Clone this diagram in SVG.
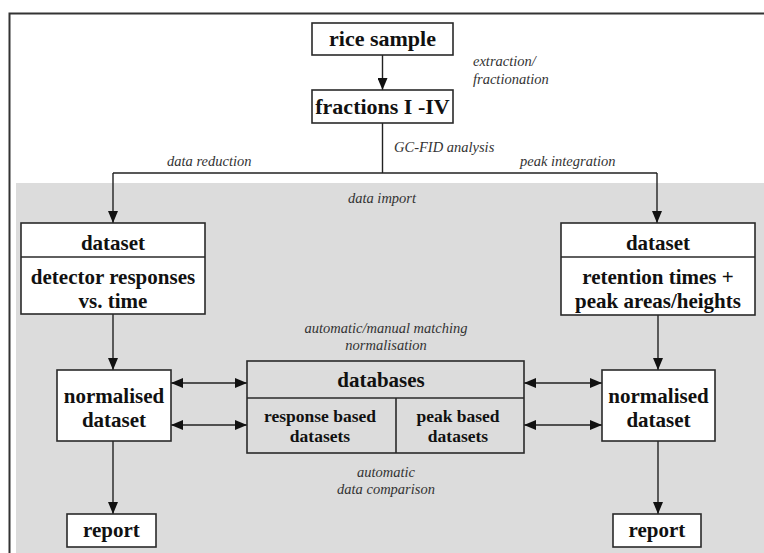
<svg xmlns="http://www.w3.org/2000/svg" width="764" height="553" viewBox="0 0 764 553" font-family="Liberation Serif, DejaVu Serif, serif">
<defs>
<style>
.box{fill:#fff;stroke:#2a2a2a;stroke-width:1.6}
.gbox{fill:#dcdcdc;stroke:#2a2a2a;stroke-width:1.6}
.b{font-weight:bold;fill:#111;text-anchor:middle}
.b22{font-size:22px}
.b21{font-size:21px}
.b17{font-size:17.5px}
.i{font-style:italic;font-size:14.5px;fill:#333}
.c{fill:none;stroke:#222;stroke-width:1.4}
</style>
<marker id="ah" viewBox="0 0 12 10" refX="12" refY="5" markerWidth="12" markerHeight="10" markerUnits="userSpaceOnUse" orient="auto-start-reverse">
<path d="M0,0 L12,5 L0,10 z" fill="#111"/>
</marker>
</defs>
<rect x="0" y="0" width="764" height="553" fill="#fff"/>
<rect x="16" y="183" width="748" height="370" fill="#dcdcdc"/>
<path d="M9.5,553 V13.5 H764" fill="none" stroke="#333" stroke-width="2"/>

<g id="connectors">
<path class="c" d="M382.5,55 V90" marker-end="url(#ah)"/>
<path class="c" d="M382.5,123 V173 M113,173 H657"/>
<path class="c" d="M113,173 V223" marker-end="url(#ah)"/>
<path class="c" d="M657,173 V223" marker-end="url(#ah)"/>
<path class="c" d="M113,314 V370" marker-end="url(#ah)"/>
<path class="c" d="M658,315 V370" marker-end="url(#ah)"/>
<path class="c" d="M171,383 H247" marker-start="url(#ah)" marker-end="url(#ah)"/>
<path class="c" d="M171,425 H247" marker-start="url(#ah)" marker-end="url(#ah)"/>
<path class="c" d="M524,383 H602" marker-start="url(#ah)" marker-end="url(#ah)"/>
<path class="c" d="M524,425 H602" marker-start="url(#ah)" marker-end="url(#ah)"/>
<path class="c" d="M113,441 V514" marker-end="url(#ah)"/>
<path class="c" d="M658,441 V514" marker-end="url(#ah)"/>
</g>

<g id="labels" font-family="Liberation Serif, DejaVu Serif, serif">
<text class="i" x="473" y="66">extraction/</text>
<text class="i" x="473" y="84">fractionation</text>
<text class="i" x="394" y="152">GC-FID analysis</text>
<text class="i" x="167" y="166">data reduction</text>
<text class="i" x="520" y="166">peak integration</text>
<text class="i" x="382" y="203" text-anchor="middle">data import</text>
<text class="i" x="386" y="333" text-anchor="middle">automatic/manual matching</text>
<text class="i" x="386" y="350" text-anchor="middle">normalisation</text>
<text class="i" x="386" y="477" text-anchor="middle">automatic</text>
<text class="i" x="386" y="494" text-anchor="middle">data comparison</text>
</g>

<g id="rice-sample" font-family="Liberation Serif, DejaVu Serif, serif">
<rect class="box" x="312" y="23" width="141" height="32"/>
<text class="b b22" x="382.5" y="46">rice sample</text>
</g>
<g id="fractions" font-family="Liberation Serif, DejaVu Serif, serif">
<rect class="box" x="312" y="90" width="141" height="33"/>
<text class="b b22" x="382.5" y="114">fractions I -IV</text>
</g>
<g id="dataset-left" font-family="Liberation Serif, DejaVu Serif, serif">
<rect class="box" x="21" y="223" width="184" height="91"/>
<line x1="21" y1="257" x2="205" y2="257" stroke="#2a2a2a" stroke-width="1.6"/>
<text class="b b21" x="113" y="250">dataset</text>
<text class="b b21" x="113" y="284">detector responses</text>
<text class="b b21" x="113" y="308">vs. time</text>
</g>
<g id="dataset-right" font-family="Liberation Serif, DejaVu Serif, serif">
<rect class="box" x="561" y="223" width="194" height="92"/>
<line x1="561" y1="257" x2="755" y2="257" stroke="#2a2a2a" stroke-width="1.6"/>
<text class="b b21" x="658" y="250">dataset</text>
<text class="b b21" x="658" y="284">retention times +</text>
<text class="b b21" x="658" y="308">peak areas/heights</text>
</g>
<g id="normalised-left" font-family="Liberation Serif, DejaVu Serif, serif">
<rect class="box" x="57" y="370" width="114" height="71"/>
<text class="b b21" x="114" y="403">normalised</text>
<text class="b b21" x="114" y="427">dataset</text>
</g>
<g id="normalised-right" font-family="Liberation Serif, DejaVu Serif, serif">
<rect class="box" x="602" y="370" width="113" height="71"/>
<text class="b b21" x="658.5" y="403">normalised</text>
<text class="b b21" x="658.5" y="427">dataset</text>
</g>
<g id="databases" font-family="Liberation Serif, DejaVu Serif, serif">
<rect class="gbox" x="247" y="361" width="277" height="92"/>
<line x1="247" y1="398" x2="524" y2="398" stroke="#2a2a2a" stroke-width="1.6"/>
<line x1="396" y1="398" x2="396" y2="453" stroke="#2a2a2a" stroke-width="1.6"/>
<text class="b b21" x="381" y="387">databases</text>
<text class="b b17" x="320" y="422">response based</text>
<text class="b b17" x="320" y="442">datasets</text>
<text class="b b17" x="458" y="422">peak based</text>
<text class="b b17" x="458" y="442">datasets</text>
</g>
<g id="report-left" font-family="Liberation Serif, DejaVu Serif, serif">
<rect class="box" x="67" y="514" width="89" height="33"/>
<text class="b b21" x="111.5" y="537">report</text>
</g>
<g id="report-right" font-family="Liberation Serif, DejaVu Serif, serif">
<rect class="box" x="613" y="514" width="88" height="33"/>
<text class="b b21" x="657" y="537">report</text>
</g>
</svg>
